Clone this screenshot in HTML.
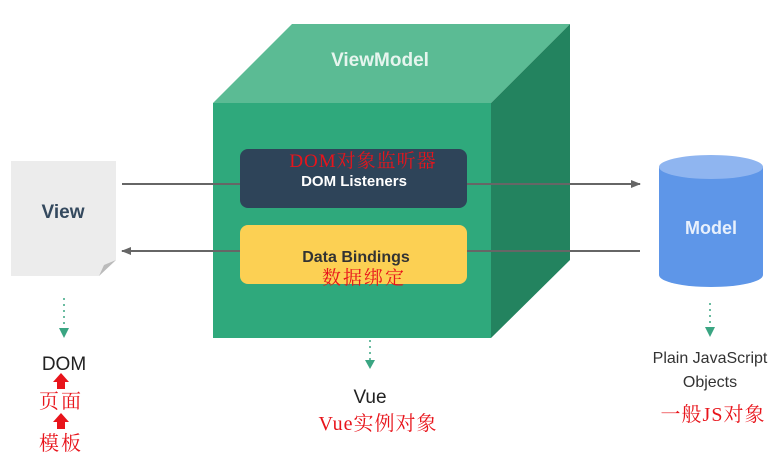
<!DOCTYPE html>
<html><head><meta charset="utf-8"><style>
body{margin:0;background:#fff;}
svg{display:block}
.s{font-family:"Liberation Sans","DejaVu Sans",sans-serif}
.r{font-family:"Liberation Serif","Noto Serif CJK SC",serif;fill:#e8141b}
</style></head><body>
<svg width="782" height="458" viewBox="0 0 782 458">
<defs>
<marker id="ah" markerWidth="10" markerHeight="10" refX="9" refY="5" orient="auto" markerUnits="userSpaceOnUse"><path d="M0,1 L10,5 L0,9 Z" fill="#666"/></marker>
</defs>
<polygon points="213,103 292,24 570,24 491,103" fill="#5bbb94"/>
<polygon points="491,103 570,24 570,260 491,338" fill="#23835f"/>
<rect x="213" y="103" width="278" height="235" fill="#2fa97c"/>
<text x="380" y="66" class="s" font-size="19" font-weight="bold" fill="#e6f5ee" text-anchor="middle">ViewModel</text>
<line x1="122" y1="184" x2="640" y2="184" stroke="#666" stroke-width="2" marker-end="url(#ah)"/>
<line x1="640" y1="251" x2="122" y2="251" stroke="#666" stroke-width="2" marker-end="url(#ah)"/>
<rect x="240" y="149" width="227" height="59" rx="8" fill="#2e4459"/>
<rect x="240" y="225" width="227" height="59" rx="8" fill="#fcd053"/>
<text x="354" y="186" class="s" font-size="15" font-weight="bold" fill="#fff" text-anchor="middle">DOM Listeners</text>
<text x="356" y="262" class="s" font-size="16" font-weight="bold" fill="#333" text-anchor="middle">Data Bindings</text>
<text x="363" y="167" class="r" font-size="19" text-anchor="middle" letter-spacing="1">DOM对象监听器</text>
<text x="364" y="284" class="r" font-size="19" text-anchor="middle" letter-spacing="2">数据绑定</text>
<polygon points="11,161 116,161 116,260 99,276 11,276" fill="#ececec"/>
<polygon points="99,276 116,260 104,265" fill="#bbb"/>
<text x="63" y="218" class="s" font-size="19" font-weight="bold" fill="#34495e" text-anchor="middle">View</text>
<path d="M659,167 L659,275 A52,12 0 0 0 763,275 L763,167 Z" fill="#5e96e8"/>
<ellipse cx="711" cy="167" rx="52" ry="12" fill="#8fb5f0"/>
<text x="711" y="234" class="s" font-size="18" font-weight="bold" fill="#e8f0fc" text-anchor="middle">Model</text>
<g stroke="#3aa582" stroke-width="1.5" stroke-dasharray="2,4">
<line x1="64" y1="298" x2="64" y2="328"/>
<line x1="370" y1="340" x2="370" y2="360"/>
<line x1="710" y1="303" x2="710" y2="325"/>
</g>
<g fill="#3aa582">
<polygon points="59,328 69,328 64,338"/>
<polygon points="365,360 375,360 370,369"/>
<polygon points="705,327 715,327 710,337"/>
</g>
<text x="64" y="370" class="s" font-size="19" fill="#222" text-anchor="middle">DOM</text>
<text x="370" y="403" class="s" font-size="19" fill="#222" text-anchor="middle">Vue</text>
<text x="710" y="363" class="s" font-size="16" fill="#333" text-anchor="middle">Plain JavaScript</text>
<text x="710" y="387" class="s" font-size="16" fill="#333" text-anchor="middle">Objects</text>
<g fill="#e8141b">
<polygon points="61,373 53,382 57,382 57,389 65,389 65,382 69,382"/>
<polygon points="61,413 53,422 57,422 57,429 65,429 65,422 69,422"/>
</g>
<text x="61" y="408" class="r" font-size="20" text-anchor="middle" letter-spacing="2">页面</text>
<text x="61" y="450" class="r" font-size="20" text-anchor="middle" letter-spacing="2">模板</text>
<text x="378" y="430" class="r" font-size="20" text-anchor="middle" letter-spacing="1">Vue实例对象</text>
<text x="713" y="421" class="r" font-size="20" text-anchor="middle" letter-spacing="1">一般JS对象</text>
</svg>
</body></html>
